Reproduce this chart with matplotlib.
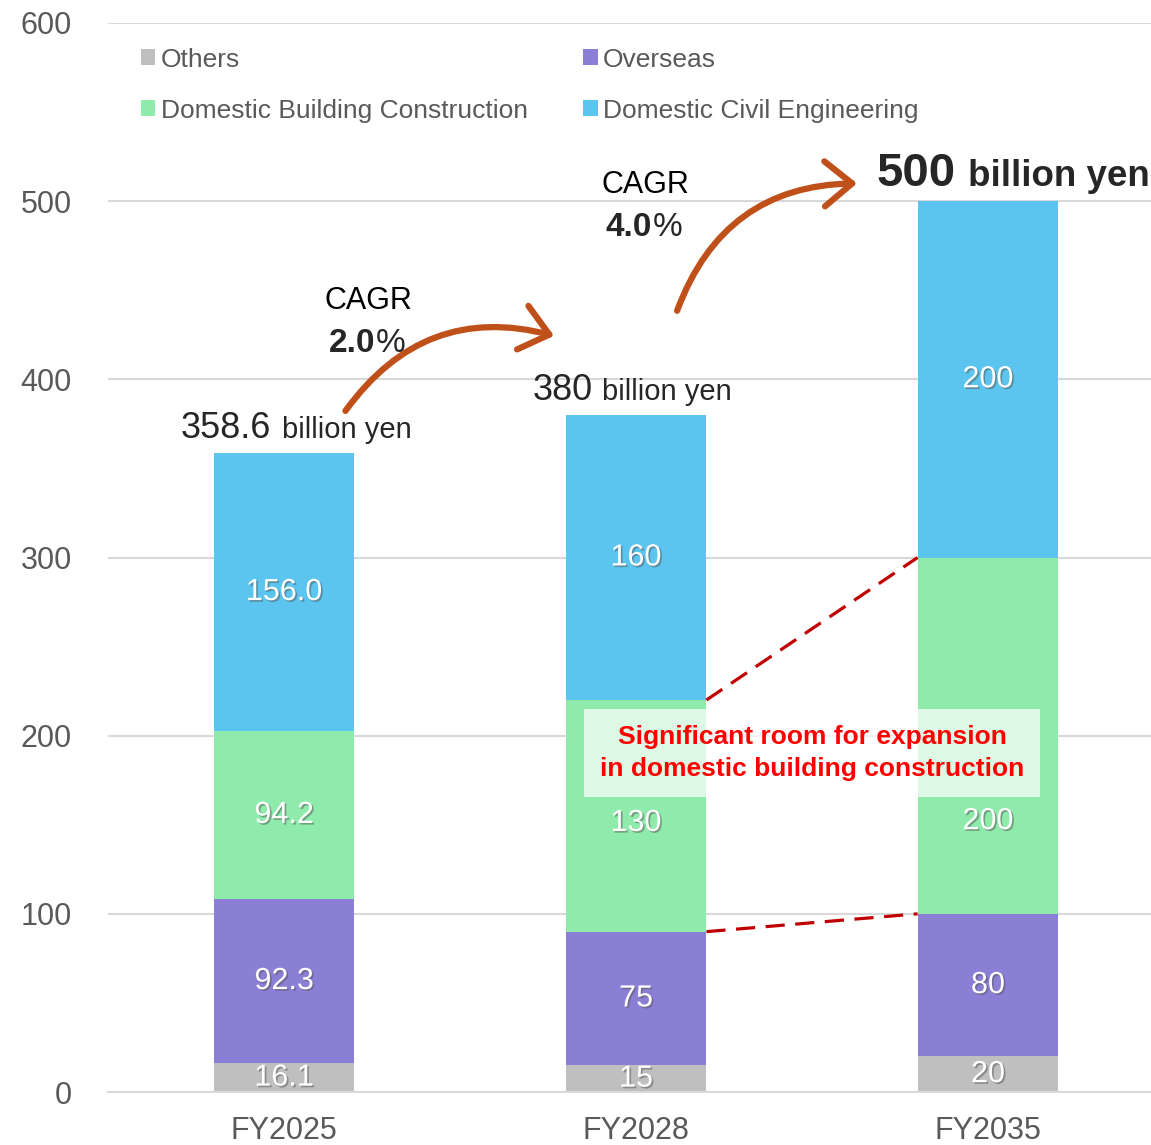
import numpy as np
import matplotlib
matplotlib.use('Agg')
import matplotlib.pyplot as plt
import matplotlib.patheffects as pe
from matplotlib.patches import FancyArrowPatch, Patch

plt.rcParams['font.family'] = ['Liberation Sans', 'DejaVu Sans']

# Data
years = ['FY2025', 'FY2028', 'FY2035']
year_nums = [2025, 2028, 2035]
series_names = ['Others', 'Overseas', 'Domestic Building Construction', 'Domestic Civil Engineering']
others = [16.1, 15, 20]
overseas = [92.3, 75, 80]
building = [94.2, 130, 200]
civil = [156.0, 160, 200]
decimals = [1, 0, 0]

series_colors = ['#BFBFBF', '#8A7FD5', '#8EEBAB', '#5BC5EF']
tick_color = '#595959'
arrow_color = '#C0501A'

stack = np.array([others, overseas, building, civil])
totals = stack.sum(axis=0)
x = np.arange(len(years))
bar_w = 0.4

fig = plt.figure(figsize=(11.51, 11.45), dpi=100)
ax = fig.add_axes([108/1151, 1 - 1092/1145, 1 - 108/1151, (1092 - 23)/1145])

# Stacked bars
bottom = np.zeros(len(years))
shadow = [pe.withSimplePatchShadow(offset=(1.2, -1.2), shadow_rgbFace='#555555', alpha=0.5)]
# manual nudges for labels that sit under the callout box
label_shift = {(2, 2): -48, (1, 2): -4}
for si, (name, vals, col) in enumerate(zip(series_names, stack, series_colors)):
    ax.bar(x, vals, bar_w, bottom=bottom, color=col, label=name, zorder=2)
    for i, v in enumerate(vals):
        yc = bottom[i] + v / 2 + label_shift.get((i, si), 0)
        ax.text(x[i], yc, f'{v:.{decimals[i]}f}', ha='center', va='center',
                color='white', fontsize=22, zorder=4, path_effects=shadow)
    bottom = bottom + vals

# Total labels above bars
split_px = [(-13, -2), (-43, -34), (-32, -20)]
for i, tot in enumerate(totals):
    big = i == len(totals) - 1
    ax.annotate(f'{tot:.{decimals[i]}f}', xy=(x[i], tot), xytext=(split_px[i][0], 15),
                textcoords='offset pixels', ha='right', va='baseline',
                fontsize=34 if big else 26, fontweight='bold' if big else 'normal',
                color='#262626', zorder=5)
    ax.annotate('billion yen', xy=(x[i], tot), xytext=(split_px[i][1], 15),
                textcoords='offset pixels', ha='left', va='baseline',
                fontsize=26.5 if big else 21, fontweight='bold' if big else 'normal',
                color='#262626', annotation_clip=False, zorder=5)

# CAGR arrows and labels
arrow_pts = [((0.170, 381), (0.775, 424)), ((1.114, 437), (1.636, 510))]
cagr_pos = [(0.241, 444, 420), (1.026, 509, 485)]
for k in range(len(years) - 1):
    cagr = (totals[k + 1] / totals[k]) ** (1 / (year_nums[k + 1] - year_nums[k])) - 1
    (x0, y0), (x1, y1) = arrow_pts[k]
    arr = FancyArrowPatch((x0, y0), (x1, y1), connectionstyle='arc3,rad=-0.35',
                          arrowstyle='->,head_length=0.55,head_width=0.45',
                          mutation_scale=36, color=arrow_color, lw=4.5,
                          capstyle='round', joinstyle='round', zorder=5)
    ax.add_patch(arr)
    cx, cy1, cy2 = cagr_pos[k]
    ax.text(cx, cy1, 'CAGR', ha='center', va='center', fontsize=22, color='black', zorder=5)
    pct = ax.text(cx + 0.018, cy2, f'{cagr * 100:.1f}', ha='right', va='center', fontsize=24,
                  fontweight='bold', color='#262626', zorder=5)
    ax.annotate('%', xy=(1, 0), xycoords=pct, xytext=(1, 0), textcoords='offset pixels',
                ha='left', va='bottom', fontsize=24, color='#262626', zorder=5)

# Dashed guide lines between FY2028 and FY2035 building segment
cum = np.cumsum(stack, axis=0)
for row in (1, 2):
    ax.plot([x[1] + bar_w / 2, x[2] - bar_w / 2], [cum[row][1], cum[row][2]],
            color='#C00000', lw=2.3, linestyle=(0, (6, 3.3)), zorder=3)

ax.text(1.5, 190.3, 'Significant room for expansion\nin domestic building construction',
        ha='center', va='center', fontsize=19, fontweight='bold', color='#FF0000',
        linespacing=1.4, zorder=6,
        bbox=dict(boxstyle='square,pad=0.6', facecolor='white', alpha=0.7, edgecolor='none'))

# Axes styling
ax.set_xlim(-0.5, 2.463)
ax.set_ylim(0, 600)
ax.set_yticks(np.arange(0, 601, 100))
ax.set_xticks(x)
ax.set_xticklabels(years)
ax.tick_params(axis='both', length=0, labelsize=22, labelcolor=tick_color)
ax.tick_params(axis='y', pad=26)
ax.tick_params(axis='x', pad=17)
ax.yaxis.grid(True, color='#D9D9D9', lw=1.5, zorder=0)
ax.set_axisbelow(True)
for s in ['top', 'right', 'left']:
    ax.spines[s].set_visible(False)
ax.spines['bottom'].set_color('#D9D9D9')
ax.spines['bottom'].set_linewidth(1.5)

# Legend
order = [0, 2, 1, 3]
handles = [Patch(facecolor=series_colors[j], edgecolor='none') for j in order]
ax.legend(handles, [series_names[j] for j in order], ncol=2, loc='upper left',
          bbox_to_anchor=(0.0316, 0.977), frameon=False, fontsize=19,
          handlelength=0.55, handleheight=0.55, handletextpad=0.2,
          columnspacing=2.1, labelspacing=1.03, borderpad=0, borderaxespad=0,
          labelcolor=tick_color)

fig.savefig('out.png', dpi=100)
